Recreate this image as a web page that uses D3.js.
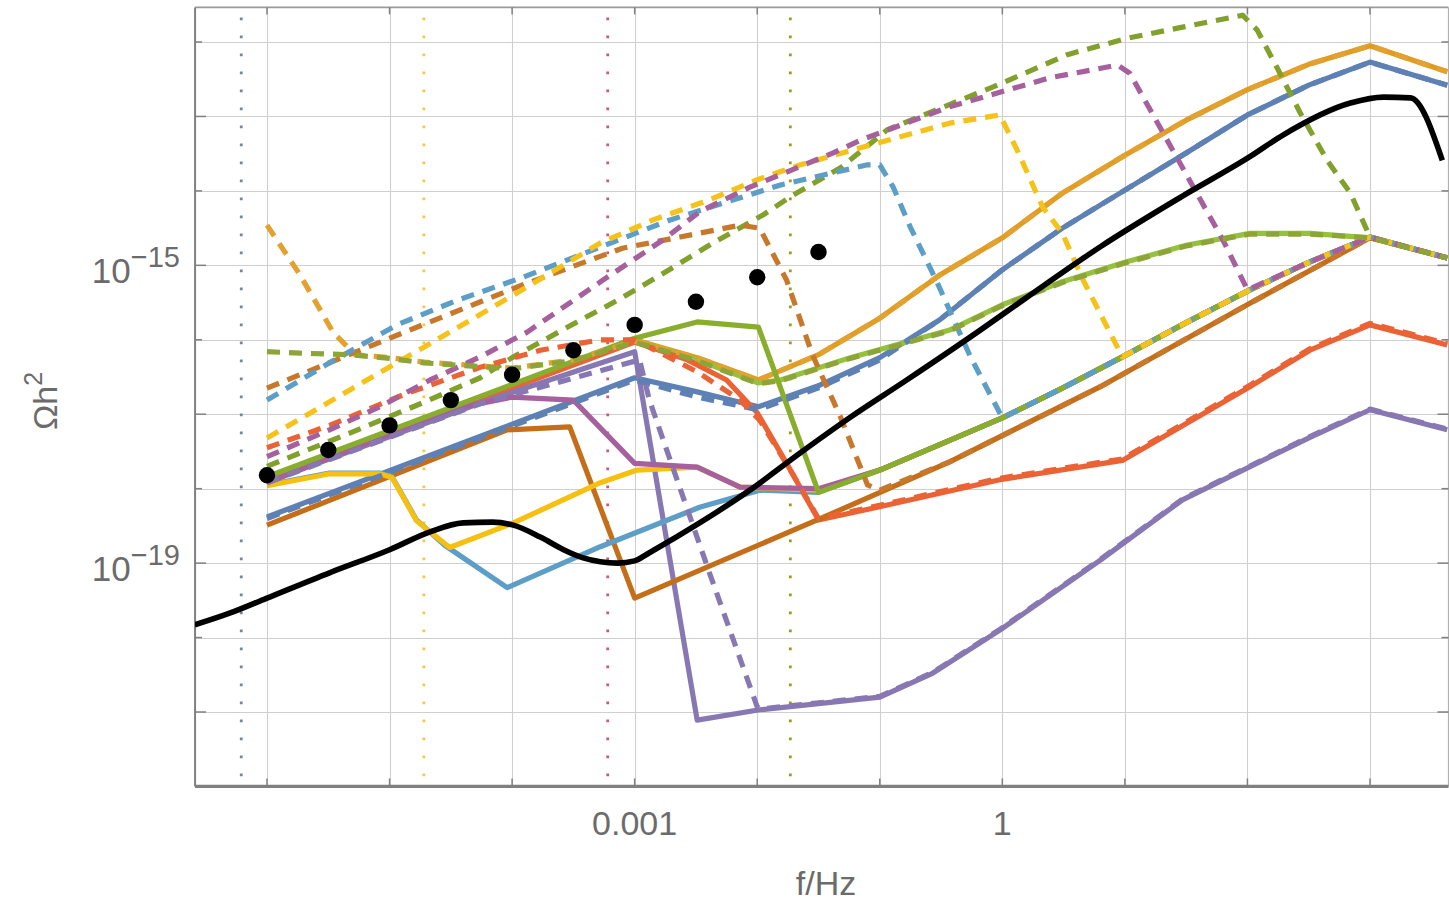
<!DOCTYPE html>
<html><head><meta charset="utf-8">
<script src="https://cdn.jsdelivr.net/npm/d3@7"></script>
<style>
html,body{margin:0;padding:0;background:#fff;}
svg{display:block;}
text{font-family:"Liberation Sans",Arial,sans-serif;fill:#6b6b6b;}
</style></head><body>
<svg id="chart" width="1449" height="902"></svg>
<script>
// All values are log10(f/Hz), log10(Omega h^2) pairs.

// Decade tick/grid positions
const xDecades = [-6, -5, -4, -3, -2, -1, 0, 1, 2, 3];
const yDecades = [-21, -20, -19, -18, -17, -16, -15, -14, -13, -12];
const xLabelled = [[-3, "0.001"], [0, "1"]];
const yLabelled = [-15, -19];
const yMajor = [-21, -19, -17, -15, -13];

// Vertical reference frequencies (dotted)
const refFreqs = [-6.21, -4.72, -3.22, -1.73];
const refColors = ["#7486a8", "#f5c84a", "#c95a78", "#9a9a20"];

// Shared high-frequency branch several spectra converge onto
const bundleTail = [[-1, -17.75], [-0.43, -17.35], [0, -17.05], [0.49, -16.65], [0.98, -16.23],
  [1.5, -15.77], [2.02, -15.33], [2.5, -14.96], [3, -14.62], [3.63, -14.90]];

// Solid spectra
const blueSolid = [[-6, -18.38], [-3, -16.51], [-2.49, -16.70], [-1.99, -16.90], [-1.49, -16.61],
  [-1, -16.24], [-0.51, -15.73], [0, -15.06], [0.49, -14.50], [1, -13.99], [1.5, -13.49],
  [2, -12.98], [2.5, -12.58], [3, -12.27], [3.63, -12.58]];
const orangeSolid = [[-6, -17.86], [-3, -16.00], [-2.49, -16.24], [-1.99, -16.54], [-1.5, -16.20],
  [-1, -15.71], [-0.51, -15.13], [0, -14.63], [0.49, -14.03], [1, -13.52], [1.5, -13.05],
  [2, -12.64], [2.5, -12.30], [3, -12.05], [3.63, -12.40]];
const greenSolid = [[-6, -17.87], [-3, -16.02], [-2.49, -16.27], [-1.99, -16.58], [-1.81, -16.54],
  [-1.24, -16.24], [-0.43, -15.87], [0, -15.53], [0.49, -15.22], [1, -14.96], [1.5, -14.73],
  [2.02, -14.57], [2.51, -14.57], [3, -14.63], [3.63, -14.90]];
const redSolid = [[-6, -17.88], [-3, -16.03], [-2.57, -16.27], [-2.25, -16.54], [-2.0, -16.98],
  [-1.76, -17.66], [-1.50, -18.42], [-1.02, -18.25], [-0.02, -17.88], [0.98, -17.62],
  [2.02, -16.63], [2.51, -16.14], [3, -15.80], [3.63, -16.07]];
const purpleSolid = [[-6, -17.91], [-4.26, -16.85], [-3, -16.16], [-2.49, -21.11], [-1.98, -20.97],
  [-1, -20.80], [-0.57, -20.48], [-0.02, -19.90], [0.80, -18.96], [1.47, -18.15],
  [2.51, -17.31], [3, -16.94], [3.63, -17.21]];
const brownSolid = [[-6, -18.49], [-4.04, -17.21], [-3.53, -17.17], [-3, -19.47], [-1.51, -18.42],
  [-0.43, -17.64], [0.80, -16.63], [2.02, -15.51], [3, -14.63], [3.63, -14.90]];
const skySolid = [[-6, -17.95], [-5.49, -17.79], [-5.08, -17.79], [-4.98, -17.84], [-4.78, -18.42],
  [-4.55, -18.76], [-4.04, -19.33], [-3.28, -18.78], [-2.47, -18.25], [-1.98, -18.02],
  [-1.5, -18.05]].concat(bundleTail);
const yellowSolid = [[-6, -17.96], [-5.49, -17.80], [-5.08, -17.80], [-4.98, -17.85], [-4.78, -18.43],
  [-4.51, -18.79], [-3.99, -18.46], [-3.28, -17.92], [-2.98, -17.75], [-2.49, -17.71],
  [-2.14, -17.98], [-1.5, -18.02]].concat(bundleTail);
const magentaSolid = [[-6, -17.92], [-4.51, -16.94], [-4, -16.77], [-3.5, -16.81], [-3, -17.66],
  [-2.49, -17.71], [-2.14, -17.98], [-1.5, -18.00]].concat(bundleTail);
const oliveSolid = [[-6, -17.84], [-3, -15.98], [-2.49, -15.76], [-1.99, -15.83],
  [-1.5, -18.05]].concat(bundleTail);

// Dashed spectra
const blueDashed = [[-6, -18.40], [-3, -16.54], [-2.49, -16.77], [-1.99, -16.94], [-1.49, -16.64],
  [-1, -16.27], [-0.51, -15.73], [0, -15.06], [0.49, -14.50], [1, -13.99], [1.5, -13.49],
  [2, -12.98], [2.5, -12.58], [3, -12.27], [3.63, -12.58]];
const orangeDashed = [[-6, -14.46], [-5.73, -15.13], [-5.46, -15.90], [-5.28, -16.20], [-5.0, -16.24],
  [-4.72, -16.30], [-4, -16.38], [-3.5, -16.27], [-3, -16.02], [-2.49, -16.24], [-1.99, -16.54],
  [-1.5, -16.20], [-1, -15.71], [-0.51, -15.13], [0, -14.63], [0.49, -14.03], [1, -13.52],
  [1.5, -13.05], [2, -12.64], [2.5, -12.30], [3, -12.05], [3.63, -12.40]];
const greenDashed = [[-6, -17.70], [-5.32, -17.25], [-4.72, -16.84], [-4.26, -16.51], [-4, -16.24],
  [-3.47, -15.76], [-3.14, -15.47], [-2.82, -15.16], [-2.36, -14.70], [-1.95, -14.32],
  [-1.73, -14.08], [-1.32, -13.69], [-0.94, -13.18], [-0.07, -12.60], [0.53, -12.17],
  [1.02, -11.95], [1.47, -11.80], [1.96, -11.64], [2.08, -11.84], [2.24, -12.34],
  [2.43, -12.95], [2.65, -13.59], [2.84, -14.03], [3, -14.62], [3.63, -14.90]];
const redDashed = [[-6, -17.45], [-5.49, -17.15], [-4.89, -16.74], [-4.26, -16.37], [-3.77, -16.14],
  [-3.28, -16.00], [-3, -16.00], [-2.49, -16.43], [-2.14, -16.81], [-1.98, -17.08],
  [-1.73, -17.75], [-1.5, -18.40], [-1.02, -18.23], [-0.02, -17.86], [0.98, -17.60],
  [2.02, -16.61], [2.51, -16.12], [3, -15.78], [3.63, -16.05]];
const purpleDashed = [[-6, -17.92], [-4.26, -16.86], [-2.96, -16.27], [-2.88, -16.81], [-2.39, -19.13],
  [-2.0, -20.93], [-1.98, -20.96], [-1, -20.79], [-0.57, -20.47], [-0.02, -19.89],
  [0.80, -18.95], [1.47, -18.14], [2.51, -17.30], [3, -16.93], [3.63, -17.20]];
const brownDashed = [[-6, -16.65], [-5.27, -16.16], [-4.73, -15.80], [-3.91, -15.26], [-3.10, -14.77],
  [-2.63, -14.62], [-2.14, -14.46], [-1.98, -14.50], [-1.76, -15.20], [-1.55, -16.20],
  [-1.32, -17.04], [-1.10, -17.95], [-1, -18.02], [-0.43, -17.64], [0.80, -16.63],
  [2.02, -15.51], [3, -14.63], [3.63, -14.90]];
const skyDashed = [[-6, -16.81], [-5.49, -16.31], [-4.94, -15.80], [-4.45, -15.47], [-3.91, -15.16],
  [-3.18, -14.69], [-2.71, -14.39], [-1.81, -13.92], [-1.10, -13.65], [-1, -13.65],
  [-0.89, -13.95], [-0.75, -14.49], [-0.54, -15.20], [-0.26, -16.23], [0, -17.05],
  [0.49, -16.65], [0.98, -16.23], [1.5, -15.77], [2.02, -15.33], [2.5, -14.96], [3, -14.62],
  [3.63, -14.90]];
const yellowDashed = [[-6, -17.32], [-5.32, -16.67], [-4.72, -16.10], [-4, -15.41], [-3.28, -14.70],
  [-2.85, -14.39], [-2.39, -14.12], [-2.0, -13.85], [-1.65, -13.65], [-1, -13.35],
  [-0.43, -13.09], [-0.02, -12.98], [0.12, -13.45], [0.33, -14.22], [0.49, -14.57],
  [0.66, -15.20], [0.88, -15.91], [0.98, -16.23], [1.5, -15.77], [2.02, -15.33],
  [2.5, -14.96], [3, -14.62], [3.63, -14.90]];
const magentaDashed = [[-6, -17.57], [-5.49, -17.21], [-5.08, -16.90], [-4.67, -16.54], [-4.26, -16.23],
  [-3.88, -15.90], [-3.26, -15.20], [-2.77, -14.66], [-2.47, -14.28], [-2.06, -13.95],
  [-1.38, -13.49], [-1.16, -13.32], [-0.43, -12.87], [0.39, -12.48], [0.94, -12.31],
  [1.04, -12.42], [1.42, -13.54], [1.80, -14.66], [2.0, -15.33], [2.5, -14.96], [3, -14.62],
  [3.63, -14.90]];
const oliveDashed = [[-6, -16.16], [-5.73, -16.18], [-5.32, -16.20], [-5.0, -16.25], [-4.72, -16.31],
  [-4, -16.39], [-3.5, -16.28], [-3, -16.03], [-2.49, -16.28], [-1.99, -16.59], [-1.81, -16.55],
  [-1.24, -16.25], [-0.43, -15.88], [0, -15.54], [0.49, -15.23], [1, -14.97], [1.5, -14.74],
  [2.02, -14.58], [2.51, -14.58], [3, -14.63], [3.63, -14.90]];

// Reference sensitivity curve (black) and benchmark points
const blackCurve = [[-6.59, -19.83], [-6.30, -19.67], [-6.00, -19.47], [-5.49, -19.13], [-5.00, -18.82],
  [-4.67, -18.58], [-4.40, -18.46], [-4.16, -18.45], [-3.99, -18.49], [-3.77, -18.65],
  [-3.58, -18.82], [-3.42, -18.93], [-3.14, -19.00], [-3.00, -18.97], [-2.88, -18.86],
  [-2.47, -18.46], [-2.06, -18.02], [-1.65, -17.52], [-1.24, -17.04], [-0.78, -16.54],
  [-0.18, -15.87], [0.20, -15.43], [0.80, -14.75], [1.47, -14.07], [2.02, -13.54],
  [2.29, -13.25], [2.84, -12.82], [3.11, -12.74], [3.33, -12.75], [3.59, -13.59]];
const dotsF = [-6, -5.5, -5, -4.5, -4, -3.5, -3, -2.5, -2, -1.5];
const dotsOmega = [-17.82, -17.48, -17.15, -16.81, -16.47, -16.14, -15.80, -15.49, -15.16, -14.82];

const solidSeries = [
  [blueSolid, "#5E81B5"], [orangeSolid, "#E19C24"], [greenSolid, "#95C13E"],
  [redSolid, "#EB6235"], [purpleSolid, "#8778B3"], [brownSolid, "#C56E1A"],
  [skySolid, "#5D9EC7"], [yellowSolid, "#F5C010"], [magentaSolid, "#A5609D"],
  [oliveSolid, "#89AD2C"]
];
const dashedSeries = [
  [blueDashed, "#5E81B5"], [orangeDashed, "#E3A230"], [greenDashed, "#82A02C"],
  [redDashed, "#EB6235"], [purpleDashed, "#8778B3"], [brownDashed, "#C8782A"],
  [skyDashed, "#5D9EC7"], [yellowDashed, "#F5C21A"], [magentaDashed, "#A5609D"],
  [oliveDashed, "#8DA538"]
];

// ---- layout ----
const svg = d3.select("#chart");
const x = d3.scaleLog().domain([1e-6, 1e3]).range([267, 1370]);
const y = d3.scaleLog().domain([1e-21, 1e-12]).range([712, 42]);
const p = v => Math.pow(10, v);
const pL = x(p(-6.587)), pR = 1448.5, pT = y(p(-11.535)), pB = y(p(-22.0));

svg.append("defs").append("clipPath").attr("id", "plotClip")
  .append("rect").attr("x", pL).attr("y", pT).attr("width", pR - pL).attr("height", pB - pT);

// grid
const grid = svg.append("g").attr("stroke", "#cfcfcf").attr("stroke-width", 1.1);
grid.selectAll("line.v").data(xDecades).join("line")
  .attr("x1", d => Math.round(x(p(d))) + 0.5).attr("x2", d => Math.round(x(p(d))) + 0.5)
  .attr("y1", pT).attr("y2", pB);
grid.selectAll("line.h").data(yDecades).join("line")
  .attr("y1", d => Math.round(y(p(d))) + 0.5).attr("y2", d => Math.round(y(p(d))) + 0.5)
  .attr("x1", pL).attr("x2", pR);

// dotted reference verticals
svg.append("g").selectAll("line").data(refFreqs).join("line")
  .attr("x1", d => x(p(d))).attr("x2", d => x(p(d)))
  .attr("y1", pT + 10).attr("y2", pB)
  .attr("stroke", (d, i) => refColors[i]).attr("stroke-width", 2.8)
  .attr("stroke-dasharray", "2.8,15.2");

// frame & ticks
const frame = svg.append("g").attr("fill", "none");
frame.append("line").attr("x1", pL).attr("x2", pR).attr("y1", pT).attr("y2", pT)
  .attr("stroke", "#9a9a9a").attr("stroke-width", 1.8);
frame.append("line").attr("x1", pR).attr("x2", pR).attr("y1", pT).attr("y2", pB)
  .attr("stroke", "#b0b0b0").attr("stroke-width", 1.2);
frame.append("line").attr("x1", pL).attr("x2", pL).attr("y1", pT).attr("y2", pB)
  .attr("stroke", "#808080").attr("stroke-width", 2);
frame.append("line").attr("x1", pL).attr("x2", pR).attr("y1", pB).attr("y2", pB)
  .attr("stroke", "#808080").attr("stroke-width", 3.2);

const ticks = svg.append("g").attr("stroke", "#808080").attr("stroke-width", 1.5);
ticks.selectAll("line.xb").data(xDecades).join("line")
  .attr("x1", d => x(p(d))).attr("x2", d => x(p(d))).attr("y1", pB).attr("y2", pB - 8);
ticks.selectAll("line.xt").data(xDecades).join("line")
  .attr("x1", d => x(p(d))).attr("x2", d => x(p(d))).attr("y1", pT).attr("y2", pT + 7);
ticks.selectAll("line.yl").data(yDecades).join("line")
  .attr("y1", d => y(p(d))).attr("y2", d => y(p(d)))
  .attr("x1", pL).attr("x2", d => pL + (yMajor.includes(d) ? 11 : 7));
ticks.selectAll("line.yr").data(yDecades).join("line")
  .attr("y1", d => y(p(d))).attr("y2", d => y(p(d)))
  .attr("x1", pR).attr("x2", d => pR - (yMajor.includes(d) ? 11 : 7));

// curves
const line = d3.line().x(d => x(p(d[0]))).y(d => y(p(d[1])));
const curves = svg.append("g").attr("clip-path", "url(#plotClip)").attr("fill", "none")
  .attr("stroke-linejoin", "round");
curves.selectAll("path.solid").data(solidSeries).join("path").attr("class", "solid")
  .attr("d", d => line(d[0])).attr("stroke", d => d[1]).attr("stroke-width", 5.2);
curves.selectAll("path.dashed").data(dashedSeries).join("path").attr("class", "dashed")
  .attr("d", d => line(d[0])).attr("stroke", d => d[1]).attr("stroke-width", 5.2)
  .attr("stroke-dasharray", "13,9");

const smooth = d3.line().x(d => x(p(d[0]))).y(d => y(p(d[1]))).curve(d3.curveMonotoneX);
curves.append("path").attr("d", smooth(blackCurve)).attr("stroke", "#000").attr("stroke-width", 5.6);

curves.selectAll("circle").data(dotsF).join("circle")
  .attr("cx", d => x(p(d))).attr("cy", (d, i) => y(p(dotsOmega[i]))).attr("r", 8.2)
  .attr("fill", "#000");

// labels
const yl = svg.append("g").selectAll("text").data(yLabelled).join("text")
  .attr("x", 180).attr("y", d => y(p(d)) + 18).attr("text-anchor", "end");
yl.append("tspan").attr("font-size", 35).text("10");
yl.append("tspan").attr("font-size", 29).attr("dy", -16).text(d => "\u2212" + Math.abs(d));

svg.append("g").selectAll("text").data(xLabelled).join("text")
  .attr("x", d => x(p(d[0]))).attr("y", 835).attr("text-anchor", "middle")
  .attr("font-size", 34).text(d => d[1]);

svg.append("text").attr("x", 826).attr("y", 895).attr("text-anchor", "middle")
  .attr("font-size", 34).text("f/Hz");

const yt = svg.append("text").attr("transform", "translate(57,401) rotate(-90)")
  .attr("text-anchor", "middle");
yt.append("tspan").attr("font-size", 34).text("\u03A9h");
yt.append("tspan").attr("font-size", 25).attr("dy", -15).text("2");
</script></body></html>
